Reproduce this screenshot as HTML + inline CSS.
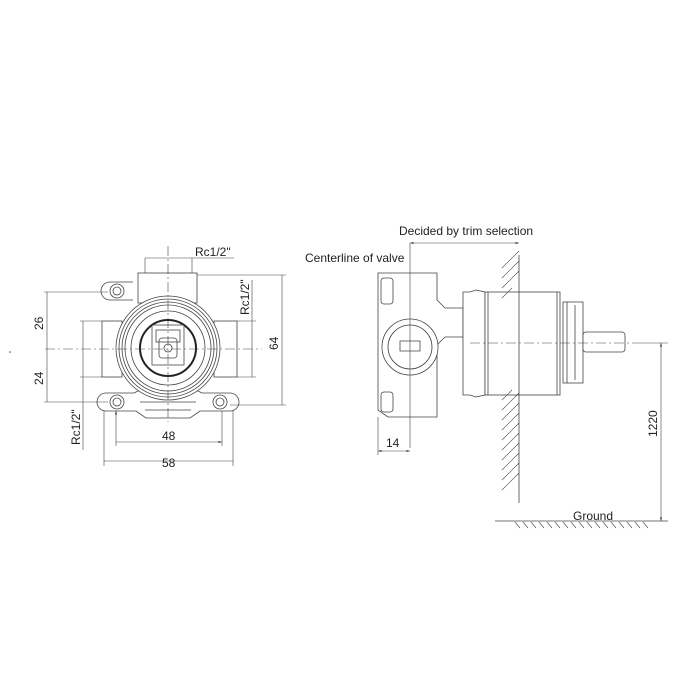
<!DOCTYPE html>
<html><head><meta charset="utf-8"><style>
html,body{margin:0;padding:0;background:#fff;width:700px;height:700px;overflow:hidden}
text{font-family:"Liberation Sans",Arial,sans-serif;font-size:12px;fill:#222}
</style></head><body>
<svg width="700" height="700" viewBox="0 0 700 700" xmlns="http://www.w3.org/2000/svg">
<defs><marker id="a" viewBox="0 0 10 10" refX="10" refY="5" markerWidth="6" markerHeight="6" orient="auto-start-reverse"><path d="M0,2 L10,5 L0,8z" fill="#333"/></marker></defs>
<g fill="none" stroke="#444" stroke-width="0.8">
<!-- LEFT VIEW -->
<rect x="138" y="273" width="59" height="30" fill="#fff"/>
<path d="M133,282 L110,282 A9,9 0 0 0 110,300 L133,300" fill="#fff"/>
<circle cx="117" cy="291" r="7"/><circle cx="117" cy="291" r="4"/>
<rect x="102" y="321" width="20" height="56" fill="#fff"/>
<rect x="214" y="321" width="23" height="56" fill="#fff"/>
<path d="M106,393 L134,393 L150,385 L186,385 L202,393 L230,393 A9,9 0 0 1 230,411 L200,411 L190,418 L146,418 L136,411 L106,411 A9,9 0 0 1 106,393 z" fill="#fff"/>
<path d="M140,402 L196,402 M145,410 L191,410"/>
<circle cx="117" cy="402" r="7"/><circle cx="117" cy="402" r="4"/>
<circle cx="220" cy="402" r="7"/><circle cx="220" cy="402" r="4"/>
<circle cx="168" cy="348" r="52" fill="#fff"/>
<circle cx="168" cy="348" r="49"/><circle cx="168" cy="348" r="46"/><circle cx="168" cy="348" r="43"/>
<circle cx="168" cy="348" r="37"/>
<circle cx="168" cy="348" r="28" stroke-width="2" stroke="#222"/>
<rect x="152" y="325" width="32" height="40"/>
<rect x="156" y="330" width="24" height="12"/>
<rect x="159" y="338" width="18" height="20" rx="3"/>
<circle cx="168" cy="348" r="4"/>
<!-- centerlines -->
<path d="M45,349 H262 M168,246 V422" stroke-dasharray="10,3,2,3" stroke-width="0.6"/>
<!-- dims -->
<path d="M145,258 V273 M192,258 V273 M145,258 H234" stroke-width="0.6"/>
<path d="M44,292 H108 M44,402 H108 M47,292 V402" stroke-width="0.6"/>
<path d="M80,321 H102 M80,377 H102 M83,321 V377 M83,377 V450" stroke-width="0.6"/>
<path d="M237,321 H256 M237,377 H256 M252,321 V377 M252,321 V280" stroke-width="0.6"/>
<path d="M197,275 H286 M230,405 H286 M282,275 V405" stroke-width="0.6"/>
<path d="M116,411 V446 M222,411 V446 M116,442 H222" stroke-width="0.6" marker-start="url(#a)" marker-end="url(#a)"/>
<path d="M104,411 V466 M233,411 V466 M104,461 H233" stroke-width="0.6"/>
<!-- RIGHT VIEW -->
<path d="M378,273 H437 V300 L445,308 H463 V337 H445 L437,345 V417 H388 L378,410 z" fill="#fff"/>
<rect x="381" y="278" width="12" height="26" rx="3"/>
<rect x="381" y="392" width="12" height="20" rx="3"/>
<circle cx="410" cy="347" r="28" fill="#fff"/><circle cx="410" cy="347" r="22"/>
<path d="M400,341 H420 V351 H400 z"/>
<path d="M463,292 H470 L476,290 L485,292 V395 L476,397 L470,395 H463 z" fill="#fff"/>
<rect x="485" y="292" width="75" height="103" fill="#fff"/>
<path d="M488,292 V395 M557,292 V395"/>
<rect x="563" y="302" width="20" height="81" fill="#fff"/>
<path d="M567,302 V383 M575,305 V380"/>
<rect x="583" y="332" width="42" height="20" rx="3" fill="#fff"/>
<path d="M470,343 H632" stroke-dasharray="10,3,2,3" stroke-width="0.6"/>
<path d="M410,243 V448 M378,417 V455" stroke-width="0.6"/>
<path d="M410,243 H519" stroke-width="0.6" marker-start="url(#a)" marker-end="url(#a)"/>
<path d="M378,451 H410" stroke-width="0.6" marker-start="url(#a)" marker-end="url(#a)"/>
<path d="M519,255 V503" stroke-width="0.8"/>
<path d="M502,268 L519,251 M502,278 L519,261 M502,288 L519,271 M502,298 L512,288 M502,400 L512,390 M502,410 L519,393 M502,420 L519,403 M502,430 L519,413 M502,440 L519,423 M502,450 L519,433 M502,460 L519,443 M502,470 L519,453 M502,480 L519,463 M502,490 L519,473" stroke-width="0.6"/>
<path d="M632,343 H668" stroke-width="0.6"/>
<path d="M661,343 V521" stroke-width="0.6" marker-start="url(#a)" marker-end="url(#a)"/>
<path d="M495,521 H668" stroke-width="0.8"/>
<path d="M515,522 l5,6 M523,522 l5,6 M531,522 l5,6 M539,522 l5,6 M547,522 l5,6 M555,522 l5,6 M563,522 l5,6 M571,522 l5,6 M579,522 l5,6 M587,522 l5,6 M595,522 l5,6 M603,522 l5,6 M611,522 l5,6 M619,522 l5,6 M627,522 l5,6 M635,522 l5,6 M643,522 l5,6" stroke-width="0.6"/>
</g>
<circle cx="10" cy="352" r="0.8" fill="#444"/>
<text x="195" y="256">Rc1/2"</text>
<text transform="translate(43,330) rotate(-90)">26</text>
<text transform="translate(43,385) rotate(-90)">24</text>
<text transform="translate(80,445) rotate(-90)">Rc1/2"</text>
<text transform="translate(249,315) rotate(-90)">Rc1/2"</text>
<text transform="translate(278,350) rotate(-90)">64</text>
<text x="162" y="440">48</text>
<text x="162" y="467">58</text>
<text x="399" y="235">Decided by trim selection</text>
<text x="305" y="262">Centerline of valve</text>
<text x="386" y="447">14</text>
<text x="573" y="520">Ground</text>
<text transform="translate(657,437) rotate(-90)">1220</text>
</svg>
</body></html>
